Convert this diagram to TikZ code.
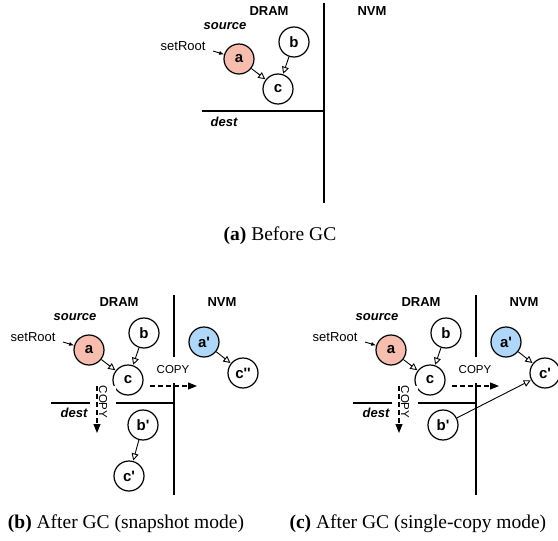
\documentclass[tikz,border=0pt]{standalone}
\usepackage{fontspec}
\setmainfont{Liberation Serif}
\setsansfont{Liberation Sans}
\usetikzlibrary{arrows.meta}
\definecolor{rootred}{HTML}{F7BEAF}
\definecolor{nvmblue}{HTML}{AED7FA}
\newcommand{\pr}{\textquotesingle}
\begin{document}
\begin{tikzpicture}[
  x=1pt,y=-1pt,
  obj/.style={circle, draw, line width=1.2pt, minimum size=30pt, inner sep=0pt, font=\sffamily\bfseries\fontsize{15}{15}\selectfont},
  ptr/.style={-{Triangle[open,length=7pt,width=7pt]}, line width=0.9pt, shorten >=0.5pt},
  rootarr/.style={-{Latex[length=5pt,width=4pt]}, line width=0.9pt},
  copyarr/.style={dash pattern=on 5pt off 3pt, -{Triangle[length=9pt,width=7pt]}, line width=1.1pt},
  copylbl/.style={fill=white, inner sep=0pt, minimum width=30pt, minimum height=26pt, font=\sffamily\fontsize{11.5}{11.5}\selectfont},
  wall/.style={line width=1.5pt},
  memlbl/.style={font=\sffamily\bfseries\fontsize{13}{13}\selectfont},
  spacelbl/.style={font=\sffamily\bfseries\itshape\fontsize{13}{13}\selectfont},
  caption/.style={font=\fontsize{19.5}{19.5}\selectfont}
]
\useasboundingbox (0,0) rectangle (558,541);
\clip (0,0) rectangle (558,541);

% (a) before GC
\begin{scope}[shift={(150,-291)}]
\draw[wall] (174,294) -- (174,494);
\draw[wall] (52,402) -- (174,402);
\node[memlbl] at (119,302) {DRAM};
\node[memlbl] at (222,302) {NVM};
\node[spacelbl] at (75,317) {source};
\node[spacelbl] at (74,413) {dest};
\node[font=\sffamily\fontsize{13}{13}\selectfont, anchor=east] (rootA) at (59,337) {setRoot};
\node[obj, fill=rootred] (aA) at (89,350) {a};
\node[obj] (bA) at (144,333) {b};
\node[obj] (cA) at (128,380) {c};
\draw[rootarr] (63,342) -- (aA);
\draw[ptr] (aA) -- (cA);
\draw[ptr] (bA) -- (cA);
\end{scope}
\node[caption] at (280,236) {\textbf{(a)} Before GC};

% (b) after GC, snapshot mode
\begin{scope}
\draw[wall] (174,295) -- (174,495);
\draw[wall] (51,403) -- (174,403);
\node[memlbl] at (119,302) {DRAM};
\node[memlbl] at (222,302) {NVM};
\node[spacelbl] at (75,317) {source};
\node[spacelbl] at (74,413) {dest};
\node[font=\sffamily\fontsize{13}{13}\selectfont, anchor=east] (rootB) at (59,337) {setRoot};
\node[obj, fill=rootred] (aB) at (89,350) {a};
\node[obj] (bB) at (144,333) {b};
\node[obj] (cB) at (128,380) {c};
\node[obj, fill=nvmblue] (apB) at (204,342) {a\pr};
\node[obj] (cppB) at (243,373) {c\pr\pr};
\node[obj] (bpB) at (143,425) {b\pr};
\node[obj] (cpB) at (129,476) {c\pr};
\node[copylbl] (cpyB) at (173,370) {COPY};
\node[copylbl, rotate=-90] (cpvB) at (103,402) {COPY};
\coordinate (hendB) at (197,386);
\coordinate (vendB) at (97,433);
\draw[rootarr] (63,342) -- (aB);
\draw[ptr] (aB) -- (cB);
\draw[ptr] (bB) -- (cB);
\draw[ptr] (apB) -- (cppB);
\draw[ptr] (bpB) -- (cpB);
\draw[copyarr] (150,386) -- (hendB);
\draw[copyarr] (97,386) -- (vendB);
\end{scope}
\node[caption] at (126,524) {\textbf{(b)} After GC (snapshot mode)};

% (c) after GC, single-copy mode
\begin{scope}[shift={(302,0)}]
\draw[wall] (174,295) -- (174,495);
\draw[wall] (51,403) -- (174,403);
\node[memlbl] at (119,302) {DRAM};
\node[memlbl] at (222,302) {NVM};
\node[spacelbl] at (75,317) {source};
\node[spacelbl] at (74,413) {dest};
\node[font=\sffamily\fontsize{13}{13}\selectfont, anchor=east] (rootC) at (59,337) {setRoot};
\node[obj, fill=rootred] (aC) at (89,350) {a};
\node[obj] (bC) at (144,333) {b};
\node[obj] (cC) at (128,380) {c};
\node[obj, fill=nvmblue] (apC) at (204,342) {a\pr};
\node[obj] (cpC) at (243,373) {c\pr};
\node[obj] (bpC) at (141,425) {b\pr};
\node[copylbl] (cpyC) at (173,370) {COPY};
\node[copylbl, rotate=-90] (cpvC) at (103,402) {COPY};
\coordinate (hendC) at (197,386);
\coordinate (vendC) at (97,433);
\draw[rootarr] (63,342) -- (aC);
\draw[ptr] (aC) -- (cC);
\draw[ptr] (bC) -- (cC);
\draw[ptr] (apC) -- (cpC);
\draw[ptr] (bpC) -- (cpC);
\draw[copyarr] (150,386) -- (hendC);
\draw[copyarr] (97,386) -- (vendC);
\end{scope}
\node[caption, anchor=west] at (286,524) {\textbf{(c)} After GC (single-copy mode)};
\end{tikzpicture}
\end{document}
